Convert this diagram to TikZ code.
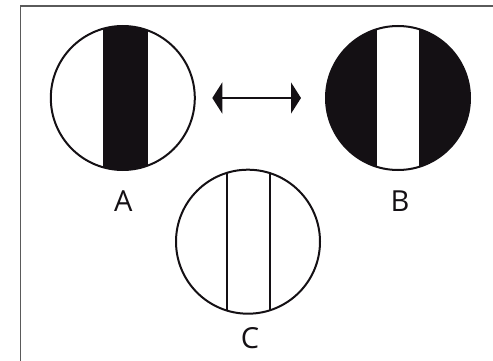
\documentclass[tikz,border=0pt]{standalone}
\usepackage{fontspec}
\setmainfont{Open Sans}
\usetikzlibrary{arrows.meta}
\definecolor{ink}{HTML}{141014}
\definecolor{framegray}{HTML}{5A5A5A}
\tikzset{
  frameline/.style={draw=framegray, line width=1.6pt},
  disc/.style={circle, draw=ink, line width=2pt, minimum size=144pt, inner sep=0pt},
  bandfill/.style={fill=ink},
  lbl/.style={font=\fontsize{29}{34}\selectfont, anchor=base, inner sep=0pt, text=ink},
  dbl/.style={draw=ink, line width=2pt, {Triangle[length=10pt,width=31pt]}-{Triangle[length=10pt,width=31pt]}},
  thinline/.style={draw=ink, line width=2pt}
}
\begin{document}
\begin{tikzpicture}[x=1pt,y=-1pt]
\useasboundingbox (0,0) rectangle (493,361);
\draw[frameline] (20.5,362) -- (20.5,6.3) -- (494,6.3);
% circle A
\coordinate (Ac) at (122.8,98);
\begin{scope}
  \clip (Ac) circle (72pt);
  \fill[bandfill] (102.7,0) rectangle (148.3,200);
\end{scope}
\node[disc] (A) at (Ac) {};
% circle B
\coordinate (Bc) at (398,98);
\fill[bandfill] (Bc) circle (72pt);
\begin{scope}
  \clip (Bc) circle (72pt);
  \fill[white] (377.3,0) rectangle (419,200);
\end{scope}
\node[disc] (B) at (Bc) {};
% circle C
\coordinate (Cc) at (248,241.7);
\node[disc] (C) at (Cc) {};
\begin{scope}
  \clip (Cc) circle (72pt);
  \draw[thinline] (226.7,150) -- (226.7,330);
  \draw[thinline] (270,150) -- (270,330);
\end{scope}
% arrow
\coordinate (L) at (212.3,98);
\coordinate (R) at (301,98);
\draw[dbl] (L) -- (R);
% labels
\node[lbl] (la) at (123.3,211) {A};
\node[lbl] (lb) at (400,211) {B};
\node[lbl] (lc) at (250,348) {C};
\end{tikzpicture}
\end{document}
